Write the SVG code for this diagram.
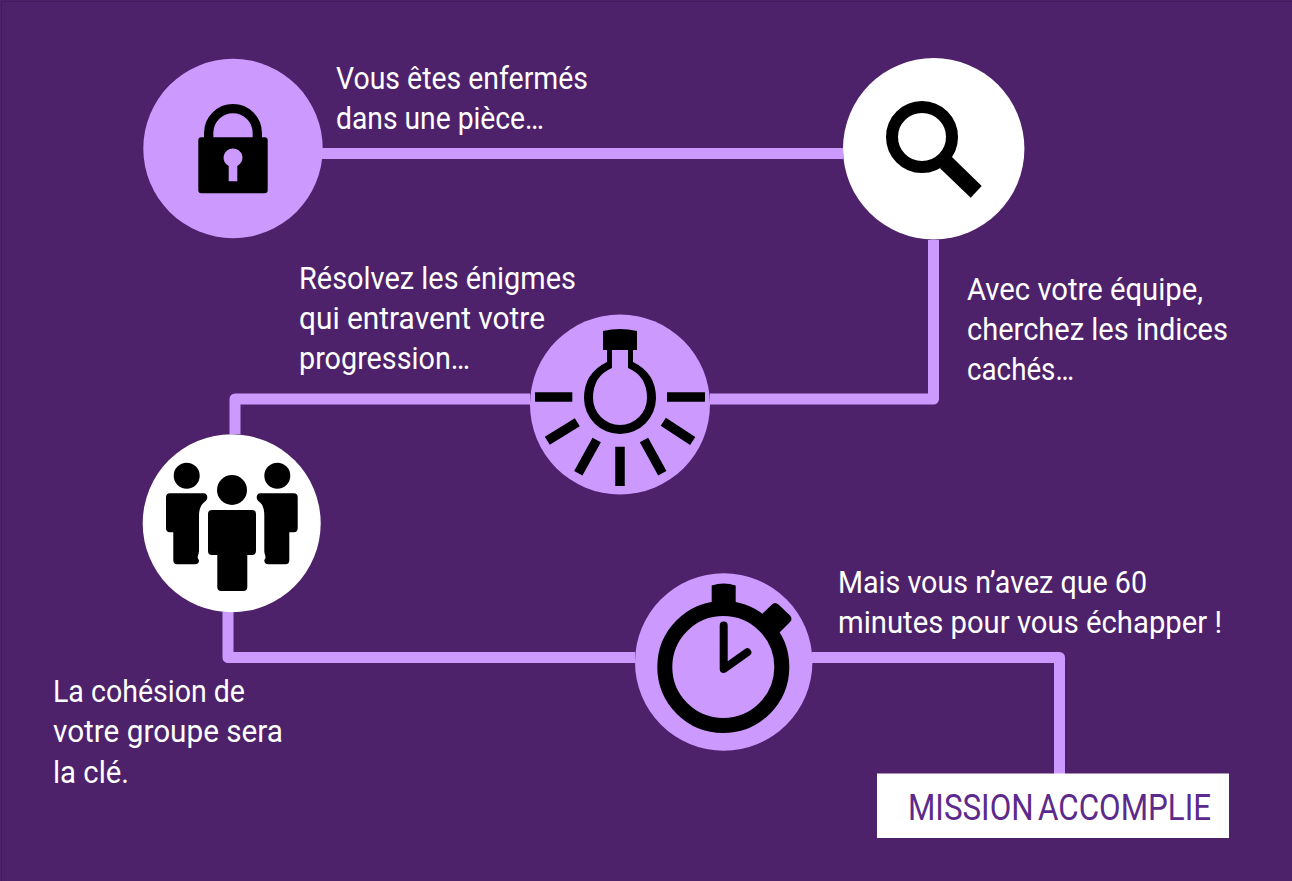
<svg xmlns="http://www.w3.org/2000/svg" width="1292" height="881" viewBox="0 0 1292 881">
<style>
.bg{fill:#4d226b}
.c{fill:#cc99ff}
.w{fill:#fff}
.k{fill:#000}
.ks{fill:none;stroke:#000}
.t{font-family:"Roboto","Liberation Sans",sans-serif;font-size:31px;fill:#fff}
.m{font-family:"Roboto","Liberation Sans",sans-serif;font-size:37.500px;fill:#5c2a8c;word-spacing:-4px}
#connectors path{fill:none;stroke:#cc99ff;stroke-width:11;stroke-linejoin:round}
</style>
<rect class="bg" width="1292" height="881"/>
<path d="M1.500 881V1.500H1292" fill="none" stroke="#431c5e" stroke-width="1"/>
<g id="connectors">
<path d="M322 153.500H843"/>
<path d="M933.500 240V399H710"/>
<path d="M530 399H235V434"/>
<path d="M228 612V657.500H635"/>
<path d="M812 657.500H1059.500V775"/>
</g>
<g id="lock">
<circle class="c" cx="233" cy="148.500" r="89.700"/>
<path class="ks" stroke-width="9.300" d="M208.700 138V133A24.300 24.300 0 0 1 257.300 133V138"/>
<path class="k" fill-rule="evenodd" d="M201.300 137.300H264.700Q267.700 137.300 267.700 140.300V190.300Q267.700 193.300 264.700 193.300H201.300Q198.300 193.300 198.300 190.300V140.300Q198.300 137.300 201.300 137.300ZM232.700 148.400A9.300 9.300 0 0 0 228.700 166V181.300H237.300V166A9.300 9.300 0 0 0 232.700 148.400Z"/>
</g>
<g id="search">
<circle class="w" cx="933.700" cy="148.700" r="90.700"/>
<circle class="ks" cx="922" cy="137" r="30" stroke-width="12"/>
<path class="k" d="M940 168.300L951.700 156.700L981.700 186L970.700 197.700Z"/>
</g>
<g id="bulb">
<circle class="c" cx="620" cy="404.500" r="90"/>
<path class="k" d="M603 331Q620 327 637 331V350H633V362Q656 373 656 398A36 36 0 0 1 584 398Q584 373 607 362V350H603Z"/>
<path class="c" d="M612 350H628V368Q647 376 647 398A27 27 0 0 1 593 398Q593 376 612 368Z"/>
<path class="ks" stroke-width="9.500" d="M535 397H572.300M667 397H705M577.300 422.300L547.300 440.700M663.300 421.700L692.700 441M596.700 440L578.300 473.300M644 440L662.300 473.300M620 446.700V486"/>
</g>
<g id="people">
<circle class="w" cx="231.700" cy="523.300" r="89"/>
<circle class="k" cx="186.700" cy="475.700" r="13"/>
<circle class="k" cx="277.300" cy="475.700" r="13"/>
<circle class="k" cx="232" cy="490" r="15"/>
<path class="k" d="M170 493.300H203.500C208 493.300 208.500 499 205 501.500C201 504.500 199 509 199 516V551C199 555 196 557 199 560Q199 564.300 195 564.300H177.300Q173.300 564.300 173.300 560.300V532.300H170Q166 532.300 166 528.300V497.300Q166 493.300 170 493.300Z"/>
<path class="k" d="M293.700 493.300H260.500C256 493.300 255.500 499 259 501.500C263 504.500 264.300 509 264.300 516V551C264.300 555 267 557 264.300 560Q264.300 564.300 268.300 564.300H285.300Q289.300 564.300 289.300 560.300V532.300H293.700Q297.700 532.300 297.700 528.300V497.300Q297.700 493.300 293.700 493.300Z"/>
<path class="k" d="M212 510H252Q256 510 256 514V551Q256 555 252 555H247.300V587Q247.300 591 243.300 591H221.300Q217.300 591 217.300 587V555H212Q208 555 208 551V514Q208 510 212 510Z"/>
</g>
<g id="stopwatch">
<circle class="c" cx="723.700" cy="662" r="88.700"/>
<circle class="ks" cx="723.300" cy="667" r="58.500" stroke-width="15"/>
<path class="k" d="M711.700 585.500Q723.700 581.500 735.700 585.500V612H711.700Z"/>
<path class="k" d="M761 615L772 604.500Q775 601.300 778.500 604.500L790 615.500Q793 619 790 622L776 636Z"/>
<path class="ks" stroke-width="8" stroke-linecap="round" stroke-linejoin="round" d="M723.700 625.500V669L747.300 652.300"/>
</g>
<g id="mission">
<rect class="w" x="877" y="773.500" width="352" height="64.500"/>
<text class="m" x="908" y="820" textLength="303" lengthAdjust="spacingAndGlyphs">MISSION ACCOMPLIE</text>
</g>
<g id="labels">
<text class="t" x="336" y="89" textLength="252" lengthAdjust="spacingAndGlyphs">Vous êtes enfermés</text>
<text class="t" x="336" y="129" textLength="208" lengthAdjust="spacingAndGlyphs">dans une pièce…</text>
<text class="t" x="299" y="289" textLength="277" lengthAdjust="spacingAndGlyphs">Résolvez les énigmes</text>
<text class="t" x="299" y="329" textLength="246" lengthAdjust="spacingAndGlyphs">qui entravent votre</text>
<text class="t" x="299" y="369" textLength="171" lengthAdjust="spacingAndGlyphs">progression…</text>
<text class="t" x="967" y="300" textLength="236" lengthAdjust="spacingAndGlyphs">Avec votre équipe,</text>
<text class="t" x="967" y="340" textLength="261" lengthAdjust="spacingAndGlyphs">cherchez les indices</text>
<text class="t" x="967" y="380" textLength="107" lengthAdjust="spacingAndGlyphs">cachés…</text>
<text class="t" x="53" y="702" textLength="192" lengthAdjust="spacingAndGlyphs">La cohésion de</text>
<text class="t" x="53" y="742" textLength="230" lengthAdjust="spacingAndGlyphs">votre groupe sera</text>
<text class="t" x="53" y="783" textLength="76" lengthAdjust="spacingAndGlyphs">la clé.</text>
<text class="t" x="838" y="593" textLength="309" lengthAdjust="spacingAndGlyphs">Mais vous n’avez que 60</text>
<text class="t" x="838" y="633" textLength="384" lengthAdjust="spacingAndGlyphs">minutes pour vous échapper !</text>
</g>
</svg>
